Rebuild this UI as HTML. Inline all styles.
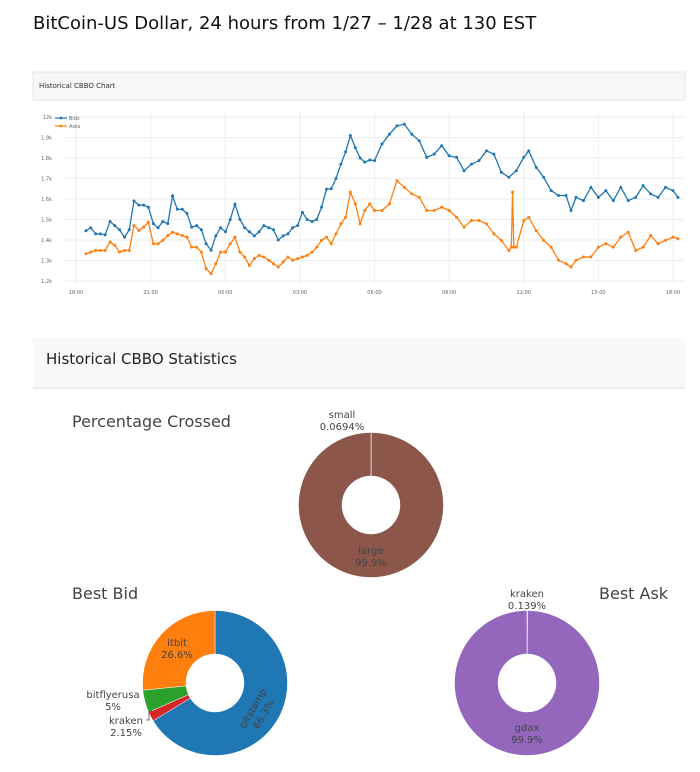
<!DOCTYPE html>
<html><head><meta charset="utf-8"><style>
body{margin:0;background:#fff;font-family:"Liberation Sans","DejaVu Sans",sans-serif;}
svg text{font-family:"DejaVu Sans","Liberation Sans",sans-serif;}
</style></head><body>
<svg id="s" width="700" height="767" viewBox="0 0 700 767">
<text x="33" y="29" font-size="18" fill="#111">BitCoin-US Dollar, 24 hours from 1/27 – 1/28 at 130 EST</text>
<rect x="33" y="72" width="652" height="28" fill="#f7f7f7" stroke="#e6e6e6"/>
<text x="39" y="88" font-size="7" fill="#333">Historical CBBO Chart</text>
<g id="chart"></g>
<rect x="33" y="338" width="652" height="50" fill="#f9f9f9"/>
<line x1="33" y1="388" x2="685" y2="388" stroke="#ddd"/>
<text x="46" y="364" font-size="15" fill="#222">Historical CBBO Statistics</text>
<text x="72" y="427" font-size="16" fill="#444">Percentage Crossed</text>
<text x="72" y="599" font-size="16" fill="#444">Best Bid</text>
<text x="599" y="599" font-size="16" fill="#444">Best Ask</text>
<g id="pies"></g>
</svg>
<script>
const timesBid=[18.40,18.59,18.79,18.98,19.17,19.37,19.56,19.75,19.95,20.14,20.33,20.53,20.72,20.91,21.11,21.30,21.49,21.69,21.88,22.07,22.27,22.46,22.65,22.85,23.04,23.23,23.43,23.62,23.81,24.01,24.20,24.39,24.59,24.78,24.97,25.17,25.36,25.55,25.75,25.94,26.13,26.33,26.52,26.71,26.91,27.10,27.29,27.49,27.68,27.87,28.07,28.26,28.45,28.65,28.84,29.03,29.23,29.42,29.61,29.81,30.00,30.3,30.6,30.9,31.2,31.5,31.8,32.1,32.4,32.7,33.0,33.3,33.6,33.9,34.2,34.5,34.8,35.1,35.4,35.7,36.0,36.2,36.5,36.8,37.1,37.4,37.7,37.9,38.1,38.4,38.7,39.0,39.3,39.6,39.9,40.2,40.5,40.8,41.1,41.4,41.7,42.0,42.2];
const bids=[11445,11460,11430,11430,11425,11490,11470,11450,11414,11450,11590,11570,11570,11560,11480,11460,11490,11480,11615,11550,11550,11530,11463,11470,11450,11382,11350,11420,11460,11440,11500,11575,11500,11460,11440,11420,11440,11470,11460,11450,11400,11420,11430,11460,11470,11535,11500,11490,11500,11560,11648,11650,11700,11770,11830,11910,11850,11800,11780,11790,11787,11868,11916,11957,11965,11916,11884,11803,11819,11860,11811,11803,11738,11770,11787,11835,11819,11730,11706,11738,11803,11835,11754,11706,11641,11617,11617,11544,11608,11592,11657,11608,11641,11592,11657,11592,11608,11665,11625,11608,11657,11641,11608];
const timesAsk=[18.40,18.59,18.79,18.98,19.17,19.37,19.56,19.75,19.95,20.14,20.33,20.53,20.72,20.91,21.11,21.30,21.49,21.69,21.88,22.07,22.27,22.46,22.65,22.85,23.04,23.23,23.43,23.62,23.81,24.01,24.20,24.39,24.59,24.78,24.97,25.17,25.36,25.55,25.75,25.94,26.13,26.33,26.52,26.71,26.91,27.10,27.29,27.49,27.68,27.87,28.07,28.26,28.45,28.65,28.84,29.03,29.23,29.42,29.61,29.81,30.00,30.3,30.6,30.9,31.2,31.5,31.8,32.1,32.4,32.7,33.0,33.3,33.6,33.9,34.2,34.5,34.8,35.1,35.4,35.5,35.55,35.6,35.7,36.0,36.2,36.5,36.8,37.1,37.4,37.7,37.9,38.1,38.4,38.7,39.0,39.3,39.6,39.9,40.2,40.5,40.8,41.1,41.4,41.7,42.0,42.2];
const asks=[11333,11341,11349,11349,11349,11390,11374,11341,11349,11349,11471,11446,11463,11487,11382,11382,11398,11422,11438,11430,11422,11414,11365,11365,11341,11260,11236,11284,11341,11341,11382,11414,11341,11317,11276,11309,11325,11317,11301,11284,11268,11293,11317,11301,11309,11317,11325,11341,11365,11398,11414,11382,11430,11479,11511,11633,11576,11479,11544,11576,11544,11544,11576,11689,11657,11625,11608,11544,11544,11560,11544,11511,11463,11495,11495,11479,11430,11398,11349,11365,11633,11365,11365,11495,11511,11446,11398,11365,11301,11284,11268,11301,11317,11317,11365,11382,11365,11414,11438,11349,11365,11422,11382,11398,11414,11406];
const yTicks=[12000,11900,11800,11700,11600,11500,11400,11300,11200];
const yTickLabels=["12k","1.9k","1.8k","1.7k","1.6k","1.5k","1.4k","1.3k","1.2k"];
const xTicks=[18,21,24,27,30,33,36,39,42];
const xTickLabels=["18:00","21:00","00:00","03:00","06:00","09:00","12:00","15:00","18:00"];
const NS="http://www.w3.org/2000/svg";
const X=t=>76+(t-18)*(673-76)/24;
const Y=v=>281-(v-11200)*(281-117)/800;
function mk(tag,attrs,parent){const e=document.createElementNS(NS,tag);for(const k in attrs)e.setAttribute(k,attrs[k]);parent.appendChild(e);return e;}
const g=document.getElementById('chart');
yTicks.forEach((v,i)=>{
  const l=mk('line',{x1:65,x2:685,y1:Y(v),y2:Y(v),stroke:'#eee'},g);
  
  
  const t=mk('text',{x:52,y:Y(v)+2,'font-size':5,fill:'#666','text-anchor':'end'},g);t.textContent=yTickLabels[i];
  
  
});
xTicks.forEach((v,i)=>{
  const l=mk('line',{x1:X(v),x2:X(v),y1:112,y2:284,stroke:'#eee'},g);
  
  
  const t=mk('text',{x:X(v),y:294,'font-size':5,fill:'#666','text-anchor':'middle'},g);t.textContent=xTickLabels[i];
  
  
});
function series(ts,vs,color,name){
  const gg=mk('g',{},g);
  
  
  mk('polyline',{points:ts.map((t,i)=>X(t)+','+Y(vs[i])).join(' '),fill:'none',stroke:color,'stroke-width':1.3},gg);
  ts.forEach((t,i)=>{const c=mk('circle',{cx:X(t),cy:Y(vs[i]),r:1.5,fill:color},gg);
    
    });
}
series(timesBid,bids,'#1f77b4','bids-line');
series(timesAsk,asks,'#ff7f0e','asks-line');
[['Bids','#1f77b4',118],['Asks','#ff7f0e',126]].forEach(([n,c,y])=>{
  const lg=mk('g',{},g);
  
  
  mk('line',{x1:55,x2:67,y1:y,y2:y,stroke:c,'stroke-width':1.2},lg);
  mk('circle',{cx:61,cy:y,r:1.4,fill:c},lg);
  const t=mk('text',{x:69,y:y+2,'font-size':5,fill:'#666'},lg);t.textContent=n;
});
const crossLabels=["small","large"];const crossValues=[0.0694,99.9306];
const bidLabels=["bitstamp","kraken","bitflyerusa","itbit"];const bidValues=[66.3,2.15,5,26.6];
const askLabels=["kraken","gdax"];const askValues=[0.139,99.861];
const pg=document.getElementById('pies');
function arc(cx,cy,R,r,a0,a1){
  const p=(rad,a)=>[cx+rad*Math.sin(a),cy-rad*Math.cos(a)];
  const lg=(a1-a0)>Math.PI?1:0;
  const [x0,y0]=p(R,a0),[x1,y1]=p(R,a1),[x2,y2]=p(r,a1),[x3,y3]=p(r,a0);
  return `M${x0},${y0}A${R},${R} 0 ${lg} 1 ${x1},${y1}L${x2},${y2}A${r},${r} 0 ${lg} 0 ${x3},${y3}Z`;
}
function pie(cx,cy,vals,labels,colors,name){
  const gg=mk('g',{},pg);
  
  
  const tot=vals.reduce((a,b)=>a+b,0);let a=0;
  vals.forEach((v,i)=>{const a1=a+v/tot*2*Math.PI;
    const s=mk('path',{d:arc(cx,cy,72.5,29,a,a1),fill:colors[i],stroke:'#fff','stroke-width':0.5},gg);
    
    
    a=a1;});
}
pie(371,505,crossValues,crossLabels,['#e377c2','#8c564b'],'percentage-crossed-pie');
pie(215,683,bidValues,bidLabels,['#1f77b4','#d62728','#2ca02c','#ff7f0e'],'best-bid-pie');
pie(527,683,askValues,askLabels,['#e377c2','#9467bd'],'best-ask-pie');
function lbl(x,y,lines,rot){
  const t=mk('text',{x:x,y:y,'font-size':10,fill:'#444','text-anchor':'middle'},pg);
  if(rot)t.setAttribute('transform',`rotate(${rot} ${x} ${y})`);
  lines.forEach((s,i)=>{const ts=mk('tspan',{x:x,dy:i?12:0},t);ts.textContent=s;});
  
  
}
lbl(342,418,['small','0.0694%']);
lbl(371,554,['large','99.9%']);
lbl(527,597,['kraken','0.139%']);
lbl(527,731,['gdax','99.9%']);
lbl(177,646,['itbit','26.6%']);
lbl(256,710,['bitstamp','66.3%'],-60);
lbl(113,698,['bitflyerusa','5%']);
lbl(126,724,['kraken','2.15%']);
mk('polyline',{points:'146,720 149,720 149,712 152,711',fill:'none',stroke:'#444','stroke-width':0.8},pg);
</script>
</body></html>
